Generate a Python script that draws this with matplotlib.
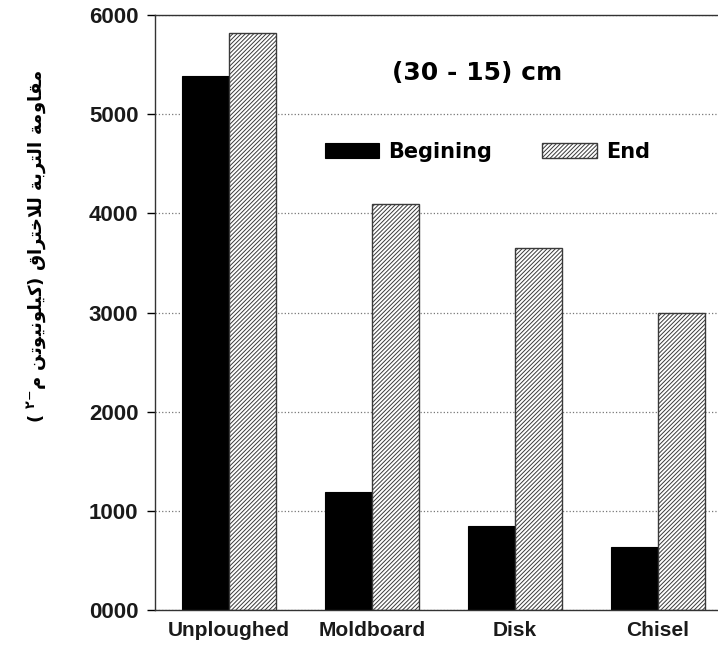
import matplotlib.pyplot as plt
import numpy as np

plt.rcParams['hatch.linewidth'] = 0.7
plt.rcParams['mathtext.fontset'] = 'dejavusans'

# data
tillage = ['Unploughed', 'Moldboard', 'Disk', 'Chisel']
begining = [5380, 1185, 850, 640]
end = [5820, 4090, 3650, 2995]
yticks = [0, 1000, 2000, 3000, 4000, 5000, 6000]
ytick_labels = ['0000', '1000', '2000', '3000', '4000', '5000', '6000']

# arabic letters -> presentation forms (isolated, final, initial, medial)
AR_FORMS = {
    'ا': ('\uFE8D', '\uFE8E', None, None),
    'ب': ('\uFE8F', '\uFE90', '\uFE91', '\uFE92'),
    'ة': ('\uFE93', '\uFE94', None, None),
    'ت': ('\uFE95', '\uFE96', '\uFE97', '\uFE98'),
    'خ': ('\uFEA5', '\uFEA6', '\uFEA7', '\uFEA8'),
    'ر': ('\uFEAD', '\uFEAE', None, None),
    'ق': ('\uFED5', '\uFED6', '\uFED7', '\uFED8'),
    'ك': ('\uFED9', '\uFEDA', '\uFEDB', '\uFEDC'),
    'ل': ('\uFEDD', '\uFEDE', '\uFEDF', '\uFEE0'),
    'م': ('\uFEE1', '\uFEE2', '\uFEE3', '\uFEE4'),
    'ن': ('\uFEE5', '\uFEE6', '\uFEE7', '\uFEE8'),
    'و': ('\uFEED', '\uFEEE', None, None),
    'ي': ('\uFEF1', '\uFEF2', '\uFEF3', '\uFEF4'),
    '\uFEFB': ('\uFEFB', '\uFEFC', None, None),
}


def shape_word(w):
    # join letters and return them in visual (left to right) order
    w = w.replace('لا', '\uFEFB')
    out = []
    for i, ch in enumerate(w):
        f = AR_FORMS[ch]
        prev_joins = i > 0 and AR_FORMS[w[i - 1]][2] is not None
        next_joins = i < len(w) - 1 and f[2] is not None
        if prev_joins and next_joins:
            out.append(f[3])
        elif prev_joins:
            out.append(f[1])
        elif next_joins:
            out.append(f[2])
        else:
            out.append(f[0])
    return ''.join(reversed(out))


ylabel = ('( $^{\\mathbf{٢}{-}}$' + shape_word('م') + ' ' + shape_word('كيلونيوتن') + ') '
          + shape_word('للاختراق') + ' ' + shape_word('التربة') + ' ' + shape_word('مقاومة'))

fig = plt.figure(figsize=(7.18, 6.52), dpi=100)
ax = fig.add_axes([155/718, 42/652, (722-155)/718, (610-15)/652])

x = np.arange(len(tillage))
w = 0.33
b1 = ax.bar(x - w/2, begining, w, color='black', edgecolor='black', lw=0.8, label='Begining')
b2 = ax.bar(x + w/2, end, w, color='white', edgecolor='#3a3a3a', hatch='////////', lw=1.0, label='End')

ax.set_xlim(-0.517, 3.45)
ax.set_ylim(0, 6000)
ax.set_yticks(yticks)
ax.set_yticklabels(ytick_labels, fontfamily='Liberation Sans', fontweight='bold', fontsize=16, color='#1a1a1a')
ax.set_xticks(x)
ax.set_xticklabels(tillage, fontfamily='Liberation Sans', fontweight='bold', fontsize=15, color='#1a1a1a')
ax.tick_params(axis='x', length=0, pad=8)
ax.tick_params(axis='y', length=6, width=1, pad=6, direction='out')
ax.yaxis.grid(True, linestyle=':', color='#777777', lw=0.9)
ax.set_axisbelow(True)
ax.spines['right'].set_visible(False)
for s in ['left', 'top', 'bottom']:
    ax.spines[s].set_color('#333333')
    ax.spines[s].set_linewidth(1.0)

ax.legend(handles=[b1, b2], ncol=2, frameon=False, loc='center left',
          bbox_to_anchor=(325/718, 1 - 152/652), bbox_transform=fig.transFigure,
          borderpad=0, borderaxespad=0, handlelength=2.6, handleheight=0.7,
          handletextpad=0.45, columnspacing=2.4,
          prop={'family': 'DejaVu Sans', 'weight': 'bold', 'size': 15})

fig.text(477/718, 1 - 73/652, '(30 - 15) cm', ha='center', va='center',
         fontfamily='DejaVu Sans', fontweight='bold', fontsize=18)
fig.text(37/718, 1 - 247/652, ylabel, rotation=90, ha='center', va='center',
         fontfamily='DejaVu Sans', fontweight='bold', fontsize=13)

fig.savefig('out.png', dpi=100)
